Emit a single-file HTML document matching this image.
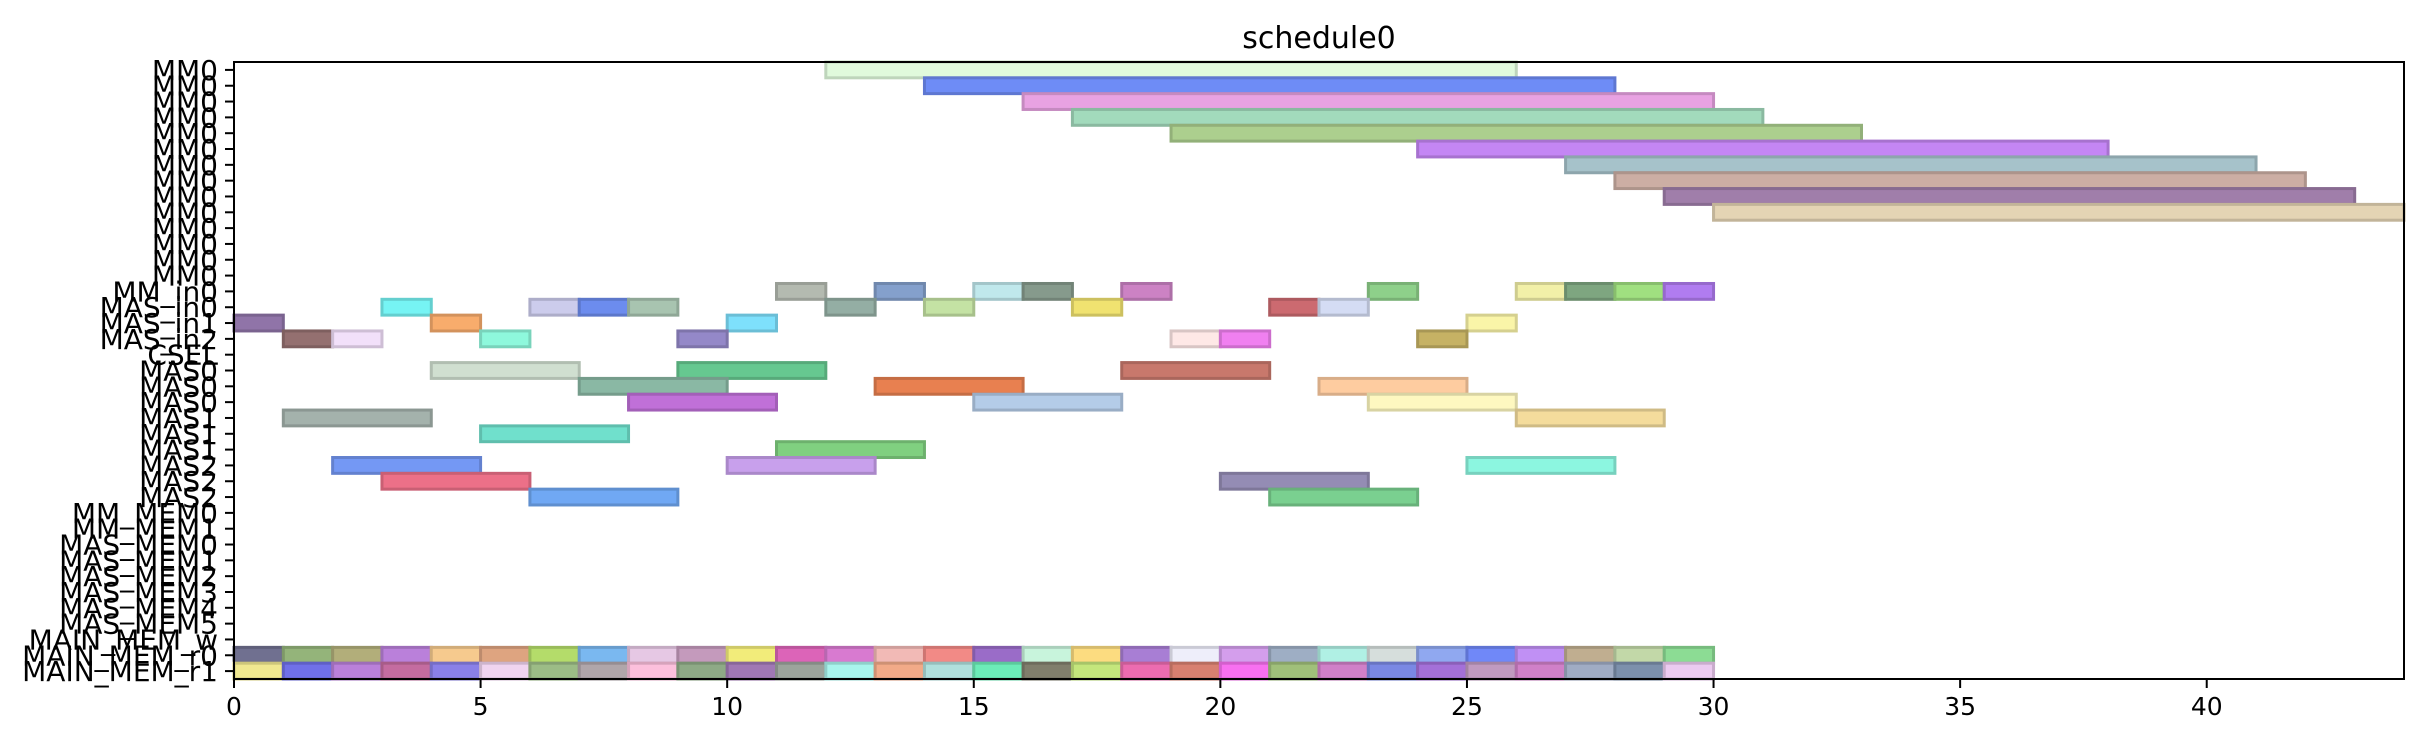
<!DOCTYPE html>
<html>
<head>
<meta charset="utf-8">
<style>
  html, body { margin: 0; padding: 0; background: #ffffff; }
  svg { display: block; font-family: "DejaVu Sans", "Liberation Sans", sans-serif; }
</style>
</head>
<body>
<svg id="chart" width="2423" height="746" viewBox="0 0 2423 746" xmlns="http://www.w3.org/2000/svg">
  <rect x="0" y="0" width="2423" height="746" fill="#ffffff"/>
  <text x="1319" y="48" font-size="30" text-anchor="middle" fill="#000">schedule0</text>
  <g id="bars"></g>
  <g id="yaxis"></g>
  <g id="xaxis"></g>
  <rect x="234" y="62" width="2170" height="617" fill="none" stroke="#000" stroke-width="2"/>
</svg>
<script>
// ---- data ----
const rowLabels = ["MM0","MM0","MM0","MM0","MM0","MM0","MM0","MM0","MM0","MM0","MM0","MM0","MM0","MM0",
  "MM_in0","MAS_in0","MAS_in1","MAS_in2","CSEL","MAS0","MAS0","MAS0","MAS1","MAS1","MAS1","MAS2","MAS2","MAS2",
  "MM_MEM0","MM_MEM1","MAS_MEM0","MAS_MEM1","MAS_MEM2","MAS_MEM3","MAS_MEM4","MAS_MEM5","MAIN_MEM_w","MAIN_MEM_r0","MAIN_MEM_r1"];
const xTicks = [0,5,10,15,20,25,30,35,40];

const taskRows = [0,1,2,3,4,5,6,7,8,9,
  14,14,14,14,14,14,14,14,14,14,
  15,15,15,15,15,15,15,15,15,
  16,16,16,16,
  17,17,17,17,17,17,17,
  19,19,19, 20,20,20, 21,21,21,
  22,22, 23, 24,
  25,25,25, 26,26, 27,27];
const taskStarts = [12,14,16,17,19,24,27,28,29,30,
  11,13,15,16,18,23,26,27,28,29,
  3,6,7,8,12,14,17,21,22,
  0,4,10,25,
  1,2,5,9,19,20,24,
  4,9,18, 7,13,22, 8,15,23,
  1,26, 5, 11,
  2,10,25, 3,20, 6,21];
const taskEnds = [26,28,30,31,33,38,41,42,43,44,
  12,14,16,17,19,24,27,28,29,30,
  4,7,8,9,13,15,18,22,23,
  1,5,11,26,
  2,3,6,10,20,21,25,
  7,12,21, 10,16,25, 11,18,26,
  4,29, 8, 14,
  5,13,28, 6,23, 9,24];
const taskColors = ["#e0fadc","#6e8cf6","#e8a2e2","#a2dabc","#accf8e","#c486f4","#a6c2ca","#ccaea4","#a07eaa","#e4d4b4",
  "#b4bab0","#84a0cc","#c0e8ec","#869a8c","#cc82c4","#8ed08a","#f2f0a8","#7ea680","#a0e080","#b07cf0",
  "#76f4f4","#ccccec","#6c8cee","#a8c4b0","#94aea4","#c4e2a4","#f0e270","#cc6a70","#d4dcf4",
  "#9074a8","#f8ac6c","#7ee0fc","#faf5a8",
  "#947070","#f2e0fa","#8ef8dc","#9488c8","#fee8e6","#f080f0","#c6b264",
  "#d0dfd0","#66c890","#c8786c", "#8ab8a4","#e88050","#fecca0", "#c070d8","#b4cce8","#fef8c0",
  "#a4b2ac","#f4dc9c", "#70e0cc", "#80d080",
  "#7498f4","#c8a0ec","#8cf6e0", "#ec7088","#948cb4", "#70a8f4","#7ad090"];

const memR0Colors = ["#707090","#94b47a","#b2ae7a","#ba80da","#f6ca8e","#dea480","#b4dc6a","#7ab8f0","#e6c8e4","#c49abc",
  "#f2ec7a","#dc64b8","#d87ad0","#f2bab6","#f28a86","#9a6cc8","#c8f4dc","#fcdc80","#a87ed4","#eeeefa",
  "#d49eec","#9eaec4","#b0f0e4","#d6dedc","#90a8f0","#7088f8","#c090f4","#c0ae90","#c2d8a8","#8cdc94"];
const memR1Colors = ["#f0e890","#7070e8","#ba80da","#c46ca0","#8a80e8","#f0d4f0","#9cbc86","#b0a6aa","#fcc0dc","#8eaa86",
  "#a078b4","#9ca49c","#a8f4ec","#f2aa88","#b0e0dc","#6cecb8","#807e6c","#c4e67c","#ec6cb0","#d88070",
  "#f870f0","#a0c07a","#d080c8","#7a88e4","#a470d8","#c09ac0","#d080c8","#a0acc4","#7c90ac","#eccaf0"];
const memR0Starts = [0,1,2,3,4,5,6,7,8,9,10,11,12,13,14,15,16,17,18,19,20,21,22,23,24,25,26,27,28,29];
const memR1Starts = [0,1,2,3,4,5,6,7,8,9,10,11,12,13,14,15,16,17,18,19,20,21,22,23,24,25,26,27,28,29];

// ---- axes ----
const X0 = 234, X1 = 2404, XMAX = 44;
const Y0 = 62, Y1 = 679;
function xScale(v) { return X0 + (X1 - X0) * v / XMAX; }
const rowH = (Y1 - Y0) / rowLabels.length;
function yScale(i) { return Y0 + rowH * (i + 0.5); }

function darken(hex, f) {
  const n = parseInt(hex.slice(1), 16);
  const r = Math.round(((n >> 16) & 255) * f), g = Math.round(((n >> 8) & 255) * f), b = Math.round((n & 255) * f);
  return "rgb(" + r + "," + g + "," + b + ")";
}
const NS = "http://www.w3.org/2000/svg";
const barsG = document.getElementById("bars");
function drawBar(row, s, e, color, name) {
  const r = document.createElementNS(NS, "rect");
  
  
  const x = xScale(s), w = xScale(e) - xScale(s);
  const cy = yScale(row);
  r.setAttribute("x", x);
  r.setAttribute("y", cy - rowH / 2);
  r.setAttribute("width", w);
  r.setAttribute("height", rowH);
  r.setAttribute("fill", color);
  r.setAttribute("stroke", darken(color, 0.85));
  r.setAttribute("stroke-width", "3");
  barsG.appendChild(r);
}
for (let i = 0; i < taskRows.length; i++) {
  drawBar(taskRows[i], taskStarts[i], taskEnds[i], taskColors[i], "task-bar");
}
for (let i = 0; i < memR0Starts.length; i++) {
  drawBar(37, memR0Starts[i], memR0Starts[i] + 1, memR0Colors[i], "main-mem-r0-bar");
}
for (let i = 0; i < memR1Starts.length; i++) {
  drawBar(38, memR1Starts[i], memR1Starts[i] + 1, memR1Colors[i], "main-mem-r1-bar");
}

const yG = document.getElementById("yaxis");
for (let i = 0; i < rowLabels.length; i++) {
  const y = yScale(i);
  const t = document.createElementNS(NS, "line");
  
  
  t.setAttribute("x1", X0 - 9); t.setAttribute("x2", X0);
  t.setAttribute("y1", y); t.setAttribute("y2", y);
  t.setAttribute("stroke", "#000"); t.setAttribute("stroke-width", "2");
  yG.appendChild(t);
  const l = document.createElementNS(NS, "text");
  
  
  l.setAttribute("x", X0 - 16); l.setAttribute("y", y + 10);
  l.setAttribute("font-size", "28"); l.setAttribute("text-anchor", "end");
  l.textContent = rowLabels[i];
  yG.appendChild(l);
}
const xG = document.getElementById("xaxis");
for (let i = 0; i < xTicks.length; i++) {
  const x = xScale(xTicks[i]);
  const t = document.createElementNS(NS, "line");
  
  
  t.setAttribute("x1", x); t.setAttribute("x2", x);
  t.setAttribute("y1", Y1); t.setAttribute("y2", Y1 + 9);
  t.setAttribute("stroke", "#000"); t.setAttribute("stroke-width", "2");
  xG.appendChild(t);
  const l = document.createElementNS(NS, "text");
  
  
  l.setAttribute("x", x); l.setAttribute("y", Y1 + 36);
  l.setAttribute("font-size", "25"); l.setAttribute("text-anchor", "middle");
  l.textContent = String(xTicks[i]);
  xG.appendChild(l);
}
</script>
</body>
</html>
